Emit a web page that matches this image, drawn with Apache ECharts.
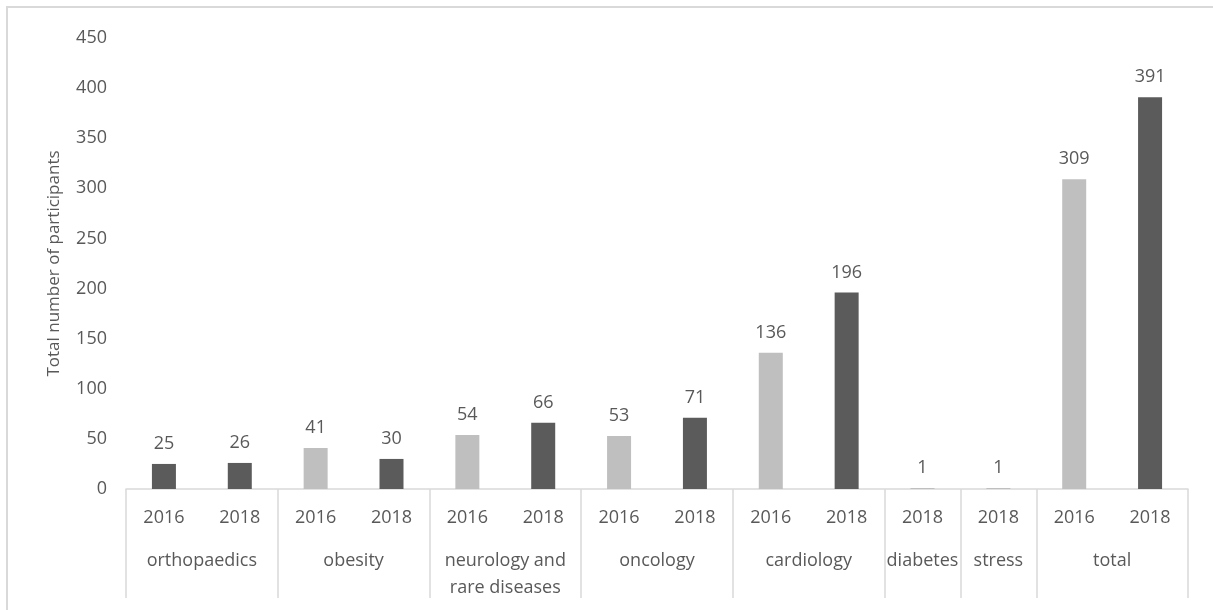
<!DOCTYPE html>
<html>
<head>
<meta charset="utf-8">
<script src="https://cdn.jsdelivr.net/npm/echarts@6/dist/echarts.min.js"></script>
<style>
  html, body { margin: 0; padding: 0; background: #ffffff; }
  #chart { width: 1213px; height: 610px; }
</style>
</head>
<body>
<div id="chart"></div>
<script>
// Participants per clinical area and year
const years = ['2016', '2018', '2016', '2018', '2016', '2018', '2016', '2018', '2016', '2018', '2018', '2018', '2016', '2018'];
const groups = ['orthopaedics', 'obesity', 'neurology and\nrare diseases', 'oncology', 'cardiology', 'diabetes', 'stress', 'total'];
const groupSizes = [2, 2, 2, 2, 2, 1, 1, 2];
const lightValues = ['-', '-', 41, '-', 54, '-', 53, '-', 136, '-', 1, 1, 309, '-'];
const darkValues = [25, 26, '-', 30, '-', 66, '-', 71, '-', 196, '-', '-', '-', 391];
const yTicks = [0, 50, 100, 150, 200, 250, 300, 350, 400, 450];

// Group boundaries and centres along the category band (in slot units)
const bounds = [0];
const centres = [];
groupSizes.forEach(function (n) {
  const start = bounds[bounds.length - 1];
  centres.push(start + n / 2);
  bounds.push(start + n);
});

const FONT = 'Open Sans';
const TEXT = '#595959';
const LINE = '#D9D9D9';

const chart = echarts.init(document.getElementById('chart'));

const labelStyle = {
  show: true,
  position: 'top',
  distance: 11,
  color: TEXT,
  fontFamily: FONT,
  fontSize: 18
};

chart.setOption({
  animation: false,
  backgroundColor: '#ffffff',
  graphic: [{
    type: 'rect',
    shape: { x: 7, y: 7, width: 1400, height: 800 },
    style: { fill: 'none', stroke: LINE, lineWidth: 2 },
    silent: true
  }],
  grid: { left: 126, right: 25, top: 38, bottom: 121 },
  xAxis: [{
    type: 'category',
    data: years,
    axisLine: { lineStyle: { color: LINE, width: 1.5 } },
    axisTick: { show: false },
    axisLabel: { color: TEXT, fontFamily: FONT, fontSize: 18, margin: 20, interval: 0 },
    splitLine: { show: false }
  }, {
    type: 'value',
    position: 'bottom',
    min: 0,
    max: bounds[bounds.length - 1],
    axisLine: { show: false },
    axisTick: {
      show: true,
      customValues: bounds,
      length: 109,
      lineStyle: { color: LINE, width: 1.5 }
    },
    axisLabel: {
      show: true,
      customValues: centres,
      margin: 58,
      color: TEXT,
      fontFamily: FONT,
      fontSize: 18,
      lineHeight: 27,
      formatter: function (v) {
        const i = centres.findIndex(function (c) { return Math.abs(c - v) < 1e-6; });
        return i >= 0 ? groups[i] : '';
      }
    },
    splitLine: { show: false }
  }],
  yAxis: {
    type: 'value',
    min: yTicks[0],
    max: yTicks[yTicks.length - 1],
    interval: yTicks[1] - yTicks[0],
    name: 'Total number of participants',
    nameLocation: 'middle',
    nameGap: 63,
    nameTextStyle: { color: TEXT, fontFamily: FONT, fontSize: 17 },
    axisLine: { show: false },
    axisTick: { show: false },
    axisLabel: { color: TEXT, fontFamily: FONT, fontSize: 18, margin: 19 },
    splitLine: { show: false }
  },
  series: [{
    name: 'light',
    type: 'bar',
    xAxisIndex: 0,
    data: lightValues,
    barWidth: 24,
    barGap: '-100%',
    itemStyle: { color: '#BFBFBF' },
    label: labelStyle
  }, {
    name: 'dark',
    type: 'bar',
    xAxisIndex: 0,
    data: darkValues,
    barWidth: 24,
    barGap: '-100%',
    itemStyle: { color: '#5B5B5B' },
    label: labelStyle
  }]
});
</script>
</body>
</html>
